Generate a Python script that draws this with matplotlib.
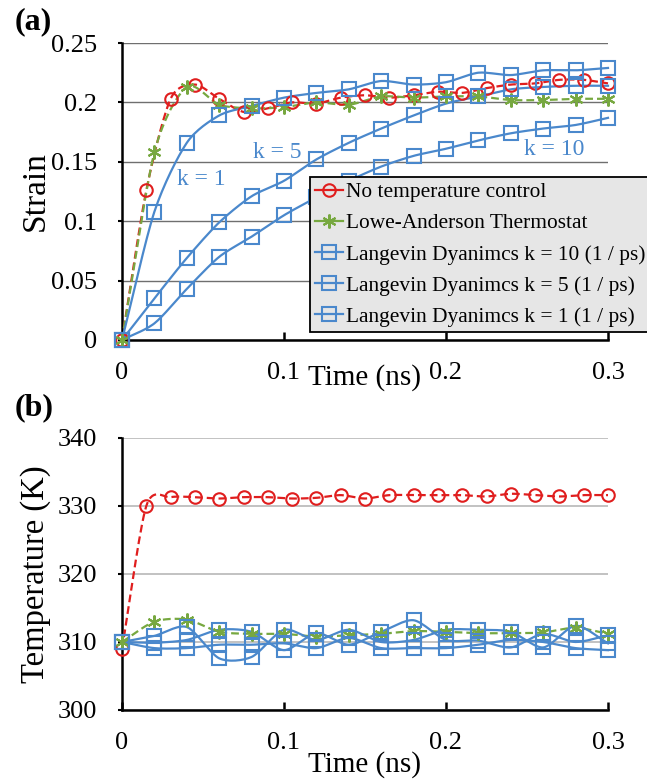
import numpy as np
import matplotlib
matplotlib.use('Agg')
import matplotlib.pyplot as plt
from matplotlib.lines import Line2D

plt.rcParams['font.family'] = ['Liberation Serif', 'DejaVu Serif']

# time axes (ns)
t_red = [0, 0.015, 0.03, 0.045, 0.06, 0.075, 0.09, 0.105, 0.12, 0.135, 0.15,
         0.165, 0.18, 0.195, 0.21, 0.225, 0.24, 0.255, 0.27, 0.285, 0.3]
t_20 = [0, 0.02, 0.04, 0.06, 0.08, 0.1, 0.12, 0.14, 0.16, 0.18, 0.2,
        0.22, 0.24, 0.26, 0.28, 0.3]

# (a) strain
strain_none = [0, 0.126, 0.203, 0.215, 0.203, 0.192, 0.195, 0.2, 0.199, 0.204, 0.206,
               0.204, 0.206, 0.209, 0.208, 0.212, 0.215, 0.216, 0.219, 0.219, 0.216]
strain_lowe = [0, 0.158, 0.213, 0.198, 0.195, 0.196, 0.2, 0.198, 0.205, 0.204, 0.205,
               0.205, 0.202, 0.202, 0.203, 0.203]
strain_k10 = [0, 0.014, 0.043, 0.07, 0.087, 0.105, 0.12, 0.134, 0.146, 0.155, 0.161,
              0.168, 0.174, 0.178, 0.181, 0.187]
strain_k5 = [0, 0.035, 0.069, 0.099, 0.121, 0.134, 0.152, 0.166, 0.178, 0.189, 0.199,
             0.205, 0.211, 0.213, 0.214, 0.214]
strain_k1 = [0, 0.108, 0.166, 0.189, 0.197, 0.204, 0.208, 0.211, 0.218, 0.215, 0.217,
             0.225, 0.223, 0.227, 0.227, 0.229]

# (b) temperature (K)
temp_none = [309, 330, 331.3, 331.3, 331.1, 331.3, 331.3, 331.1, 331.2, 331.6, 331.1,
             331.6, 331.6, 331.6, 331.6, 331.4, 331.8, 331.6, 331.4, 331.6, 331.6]
temp_lowe = [310, 313.0, 313.3, 311.5, 311.2, 311.2, 310.8, 311.0, 311.2, 311.6, 311.5,
             311.3, 311.3, 311.4, 312.1, 311.2]
temp_k10 = [310, 309.1, 309.1, 309.6, 309.6, 309.8, 309.1, 310.6, 309.1, 309.1, 309.1,
            309.6, 310.3, 310.0, 309.1, 308.8]
temp_k5 = [310, 309.9, 310.3, 311.8, 311.5, 308.8, 311.3, 309.6, 311.5, 313.2, 310.3,
           310.2, 309.2, 311.2, 310.0, 311.0]
temp_k1 = [310, 310.9, 312.2, 307.6, 307.8, 311.8, 310.3, 311.8, 310.0, 310.3, 311.8,
           311.8, 311.5, 309.2, 312.4, 309.8]

labels = ['No temperature control', 'Lowe-Anderson Thermostat',
          'Langevin Dyanimcs k = 10 (1 / ps)', 'Langevin Dyanimcs k = 5 (1 / ps)',
          'Langevin Dyanimcs k = 1 (1 / ps)']

RED = '#e01e1e'
GREEN = '#77a840'
BLUE = '#4a88cc'


def smooth(x, y, n=16, k=0.8):
    # cardinal spline through the points (like excel "smoothed line")
    x = np.asarray(x, float)
    y = np.asarray(y, float)
    px = np.concatenate([[2 * x[0] - x[1]], x, [2 * x[-1] - x[-2]]])
    py = np.concatenate([[2 * y[0] - y[1]], y, [2 * y[-1] - y[-2]]])
    s = np.linspace(0, 1, n, endpoint=False)
    h00 = 2 * s**3 - 3 * s**2 + 1
    h10 = s**3 - 2 * s**2 + s
    h01 = -2 * s**3 + 3 * s**2
    h11 = s**3 - s**2
    xs, ys = [], []
    for i in range(1, len(px) - 2):
        for p, out in ((px, xs), (py, ys)):
            m1 = k * (p[i + 1] - p[i - 1]) / 2
            m2 = k * (p[i + 2] - p[i]) / 2
            out.extend(h00 * p[i] + h10 * m1 + h01 * p[i + 1] + h11 * m2)
    xs.append(x[-1])
    ys.append(y[-1])
    return np.array(xs), np.array(ys)


def draw(ax, x, y, color, marker, ms, ls, mew=1.5):
    sx, sy = smooth(x, y)
    ax.plot(sx, sy, color=color, lw=1.6, ls=ls, clip_on=False, zorder=3)
    ax.plot(x, y, ls='none', marker=marker, ms=ms, mfc='none', mec=color,
            mew=mew, clip_on=False, zorder=4)


fig = plt.figure(figsize=(6.47, 7.79), dpi=100)
ax1 = fig.add_axes([122 / 647, 1 - 340 / 779, 486 / 647, 297 / 779])
ax2 = fig.add_axes([122 / 647, 1 - 710 / 779, 486 / 647, 272 / 779])

dash = (0, (3.5, 1.8))
star = (6, 2, 0)

for ax, data in ((ax1, (strain_none, strain_lowe, strain_k10, strain_k5, strain_k1)),
                 (ax2, (temp_none, temp_lowe, temp_k10, temp_k5, temp_k1))):
    none_, lowe, k10, k5, k1 = data
    draw(ax, t_red, none_, RED, 'o', 9, dash)
    draw(ax, t_20, lowe, GREEN, star, 10, dash)
    draw(ax, t_20, k10, BLUE, 's', 10, '-')
    draw(ax, t_20, k5, BLUE, 's', 10, '-')
    draw(ax, t_20, k1, BLUE, 's', 10, '-')

    ax.set_xlim(0, 0.3)
    ax.set_xticks([0, 0.1, 0.2, 0.3])
    ax.set_xticklabels(['0', '0.1', '0.2', '0.3'])
    for s in ('top', 'right'):
        ax.spines[s].set_visible(False)
    for s in ('left', 'bottom'):
        ax.spines[s].set_linewidth(1.8)
    ax.tick_params(axis='x', direction='in', length=6, width=1.8, pad=16, labelsize=19)
    ax.tick_params(axis='y', direction='out', length=3, width=1.5, pad=15, labelsize=19)
    ax.set_axisbelow(True)

ax1.set_ylim(0, 0.25)
ax1.set_yticks([0, 0.05, 0.1, 0.15, 0.2, 0.25])
ax1.set_yticklabels(['0', '0.05', '0.1', '0.15', '0.2', '0.25'])
ax1.grid(axis='y', color='#6f6f6f', lw=1.0)

ax2.set_ylim(300, 340)
ax2.set_yticks([300, 310, 320, 330, 340])
ax2.set_yticklabels(['300', '310', '320', '330', '340'])
ax2.grid(axis='y', color='#b8b8b8', lw=1.2)

ax1.set_xlabel('Time (ns)', fontsize=21, va='center')
ax1.xaxis.set_label_coords(0.5, -38 / 297)
ax2.set_xlabel('Time (ns)', fontsize=21, va='center')
ax2.xaxis.set_label_coords(0.5, -55 / 272)
ax1.set_ylabel('Strain', fontsize=24, va='center')
ax1.yaxis.set_label_coords(-86 / 486, 0.5)
ax2.set_ylabel('Temperature (K)', fontsize=23.5, va='center')
ax2.yaxis.set_label_coords(-86 / 486, 0.5)

# curve labels
ax1.text(0.049, 0.135, 'k = 1', color=BLUE, fontsize=17, ha='center', va='center')
ax1.text(0.096, 0.158, 'k = 5', color=BLUE, fontsize=17, ha='center', va='center')
ax1.text(0.267, 0.160, 'k = 10', color=BLUE, fontsize=17, ha='center', va='center')

fig.text(15 / 647, 1 - 22 / 779, '(a)', fontsize=23, fontweight='bold', va='center')
fig.text(15 / 647, 1 - 408 / 779, '(b)', fontsize=23, fontweight='bold', va='center')

handles = [
    Line2D([], [], color=RED, lw=1.6, marker='o', ms=9, mfc='none', mew=1.5),
    Line2D([], [], color=GREEN, lw=1.6, marker=star, ms=10, mfc='none', mew=1.5),
    Line2D([], [], color=BLUE, lw=1.6, marker='s', ms=10, mfc='none', mew=1.5),
    Line2D([], [], color=BLUE, lw=1.6, marker='s', ms=10, mfc='none', mew=1.5),
    Line2D([], [], color=BLUE, lw=1.6, marker='s', ms=10, mfc='none', mew=1.5),
]
leg = fig.legend(handles, labels, loc='upper left',
                 bbox_to_anchor=(310 / 647, 1 - 177 / 779), borderaxespad=0,
                 fontsize=15.4, frameon=True, fancybox=False, framealpha=1,
                 facecolor='#e6e6e6', edgecolor='black', borderpad=0.25,
                 labelspacing=0.52, handlelength=1.3, handletextpad=0.15)
leg.get_frame().set_linewidth(1.3)

fig.savefig('out.png', dpi=100)
